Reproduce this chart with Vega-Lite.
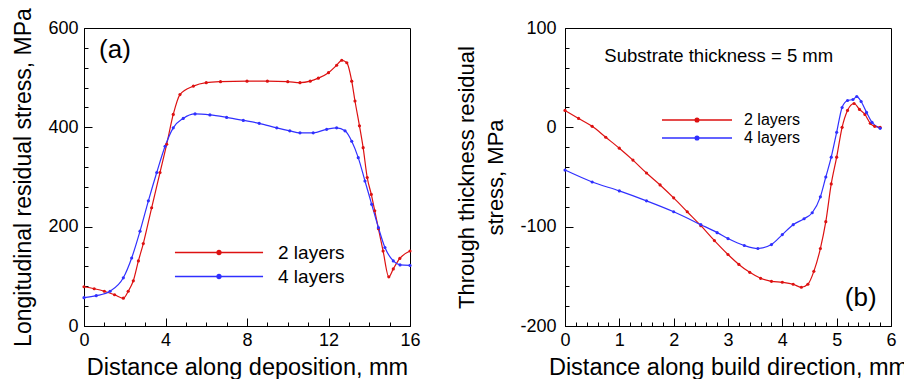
{
  "$schema": "https://vega.github.io/schema/vega-lite/v6.json",
  "padding": {"left": 12, "top": 7, "right": 0, "bottom": 0},
  "bounds": "flush",
  "spacing": 155,
  "datasets": {
    "a": [
      {"x": 0, "y": 79, "s": "2 layers"}, {"x": 0.5, "y": 75, "s": "2 layers"}, {"x": 1, "y": 70, "s": "2 layers"}, {"x": 1.5, "y": 63, "s": "2 layers"}, {"x": 1.93, "y": 56, "s": "2 layers"}, {"x": 2.17, "y": 70, "s": "2 layers"}, {"x": 2.42, "y": 91, "s": "2 layers"}, {"x": 2.67, "y": 131, "s": "2 layers"}, {"x": 2.91, "y": 166, "s": "2 layers"}, {"x": 3.32, "y": 238, "s": "2 layers"}, {"x": 3.73, "y": 309, "s": "2 layers"}, {"x": 4.06, "y": 366, "s": "2 layers"}, {"x": 4.38, "y": 426, "s": "2 layers"}, {"x": 4.71, "y": 466, "s": "2 layers"}, {"x": 5.37, "y": 483, "s": "2 layers"}, {"x": 6, "y": 490, "s": "2 layers"}, {"x": 6.7, "y": 492, "s": "2 layers"}, {"x": 8, "y": 493, "s": "2 layers"}, {"x": 9, "y": 493, "s": "2 layers"}, {"x": 10, "y": 492, "s": "2 layers"}, {"x": 10.6, "y": 490, "s": "2 layers"}, {"x": 11.1, "y": 493, "s": "2 layers"}, {"x": 11.5, "y": 499, "s": "2 layers"}, {"x": 12, "y": 510, "s": "2 layers"}, {"x": 12.4, "y": 525, "s": "2 layers"}, {"x": 12.65, "y": 535, "s": "2 layers"}, {"x": 12.9, "y": 530, "s": "2 layers"}, {"x": 13.14, "y": 493, "s": "2 layers"}, {"x": 13.3, "y": 453, "s": "2 layers"}, {"x": 13.52, "y": 403, "s": "2 layers"}, {"x": 13.7, "y": 359, "s": "2 layers"}, {"x": 13.9, "y": 299, "s": "2 layers"}, {"x": 14.1, "y": 265, "s": "2 layers"}, {"x": 14.27, "y": 232, "s": "2 layers"}, {"x": 14.45, "y": 196, "s": "2 layers"}, {"x": 14.68, "y": 151, "s": "2 layers"}, {"x": 14.96, "y": 99, "s": "2 layers"}, {"x": 15.18, "y": 115, "s": "2 layers"}, {"x": 15.5, "y": 136, "s": "2 layers"}, {"x": 16, "y": 151, "s": "2 layers"},
      {"x": 0, "y": 57, "s": "4 layers"}, {"x": 0.6, "y": 61, "s": "4 layers"}, {"x": 1.28, "y": 70, "s": "4 layers"}, {"x": 1.93, "y": 97, "s": "4 layers"}, {"x": 2.34, "y": 137, "s": "4 layers"}, {"x": 2.75, "y": 191, "s": "4 layers"}, {"x": 3.16, "y": 252, "s": "4 layers"}, {"x": 3.57, "y": 309, "s": "4 layers"}, {"x": 3.98, "y": 362, "s": "4 layers"}, {"x": 4.38, "y": 399, "s": "4 layers"}, {"x": 4.87, "y": 418, "s": "4 layers"}, {"x": 5.45, "y": 427, "s": "4 layers"}, {"x": 6.18, "y": 425, "s": "4 layers"}, {"x": 7, "y": 420, "s": "4 layers"}, {"x": 7.82, "y": 414, "s": "4 layers"}, {"x": 8.6, "y": 408, "s": "4 layers"}, {"x": 9.46, "y": 399, "s": "4 layers"}, {"x": 10.1, "y": 393, "s": "4 layers"}, {"x": 10.6, "y": 389, "s": "4 layers"}, {"x": 11.25, "y": 389, "s": "4 layers"}, {"x": 11.91, "y": 396, "s": "4 layers"}, {"x": 12.4, "y": 399, "s": "4 layers"}, {"x": 12.81, "y": 393, "s": "4 layers"}, {"x": 13.14, "y": 372, "s": "4 layers"}, {"x": 13.46, "y": 339, "s": "4 layers"}, {"x": 13.79, "y": 292, "s": "4 layers"}, {"x": 14.12, "y": 245, "s": "4 layers"}, {"x": 14.45, "y": 198, "s": "4 layers"}, {"x": 14.77, "y": 158, "s": "4 layers"}, {"x": 15.18, "y": 131, "s": "4 layers"}, {"x": 15.51, "y": 123, "s": "4 layers"}, {"x": 16, "y": 122, "s": "4 layers"}
    ],
    "b": [
      {"x": 0, "y": 17, "s": "2 layers"}, {"x": 0.25, "y": 9, "s": "2 layers"}, {"x": 0.5, "y": 1, "s": "2 layers"}, {"x": 0.75, "y": -10, "s": "2 layers"}, {"x": 1, "y": -21, "s": "2 layers"}, {"x": 1.25, "y": -33, "s": "2 layers"}, {"x": 1.5, "y": -46, "s": "2 layers"}, {"x": 1.75, "y": -58, "s": "2 layers"}, {"x": 2, "y": -71, "s": "2 layers"}, {"x": 2.25, "y": -85, "s": "2 layers"}, {"x": 2.5, "y": -99, "s": "2 layers"}, {"x": 2.75, "y": -114, "s": "2 layers"}, {"x": 3, "y": -128, "s": "2 layers"}, {"x": 3.2, "y": -138, "s": "2 layers"}, {"x": 3.4, "y": -146, "s": "2 layers"}, {"x": 3.6, "y": -152, "s": "2 layers"}, {"x": 3.8, "y": -155, "s": "2 layers"}, {"x": 4, "y": -156, "s": "2 layers"}, {"x": 4.2, "y": -158, "s": "2 layers"}, {"x": 4.35, "y": -161, "s": "2 layers"}, {"x": 4.47, "y": -158, "s": "2 layers"}, {"x": 4.58, "y": -145, "s": "2 layers"}, {"x": 4.7, "y": -122, "s": "2 layers"}, {"x": 4.8, "y": -95, "s": "2 layers"}, {"x": 4.9, "y": -57, "s": "2 layers"}, {"x": 5, "y": -30, "s": "2 layers"}, {"x": 5.1, "y": 0, "s": "2 layers"}, {"x": 5.2, "y": 17, "s": "2 layers"}, {"x": 5.32, "y": 24, "s": "2 layers"}, {"x": 5.42, "y": 18, "s": "2 layers"}, {"x": 5.52, "y": 13, "s": "2 layers"}, {"x": 5.62, "y": 4, "s": "2 layers"}, {"x": 5.7, "y": 1, "s": "2 layers"}, {"x": 5.8, "y": 0, "s": "2 layers"},
      {"x": 0, "y": -43, "s": "4 layers"}, {"x": 0.5, "y": -55, "s": "4 layers"}, {"x": 1, "y": -64, "s": "4 layers"}, {"x": 1.5, "y": -74, "s": "4 layers"}, {"x": 2, "y": -85, "s": "4 layers"}, {"x": 2.5, "y": -98, "s": "4 layers"}, {"x": 2.8, "y": -106, "s": "4 layers"}, {"x": 3, "y": -112, "s": "4 layers"}, {"x": 3.3, "y": -119, "s": "4 layers"}, {"x": 3.55, "y": -122, "s": "4 layers"}, {"x": 3.8, "y": -118, "s": "4 layers"}, {"x": 4, "y": -108, "s": "4 layers"}, {"x": 4.2, "y": -98, "s": "4 layers"}, {"x": 4.4, "y": -92, "s": "4 layers"}, {"x": 4.55, "y": -86, "s": "4 layers"}, {"x": 4.7, "y": -70, "s": "4 layers"}, {"x": 4.8, "y": -50, "s": "4 layers"}, {"x": 4.9, "y": -30, "s": "4 layers"}, {"x": 5, "y": -5, "s": "4 layers"}, {"x": 5.1, "y": 20, "s": "4 layers"}, {"x": 5.2, "y": 27, "s": "4 layers"}, {"x": 5.3, "y": 28, "s": "4 layers"}, {"x": 5.37, "y": 31, "s": "4 layers"}, {"x": 5.45, "y": 26, "s": "4 layers"}, {"x": 5.55, "y": 15, "s": "4 layers"}, {"x": 5.65, "y": 5, "s": "4 layers"}, {"x": 5.8, "y": -1, "s": "4 layers"}
    ]
  },
  "hconcat": [
    {
      "width": 326, "height": 298,
      "layer": [
        {
          "data": {"name": "a"},
          "mark": {"type": "line", "interpolate": "monotone", "strokeWidth": 1.2, "point": {"filled": true, "size": 10}},
          "encoding": {
            "x": {"field": "x", "type": "quantitative", "scale": {"domain": [0, 16], "nice": false, "zero": false},
              "axis": {"title": "Distance along deposition, mm", "tickCount": 100, "values": [0,1,2,3,4,5,6,7,8,9,10,11,12,13,14,15,16],
                "labelOverlap": false, "labelPadding": 13, "titlePadding": 2,
                "labelExpr": "datum.value % 4 === 0 ? datum.value + '' : ''",
                "tickSize": {"condition": {"test": "datum.value % 4 === 0", "value": -8}, "value": -4}}},
            "y": {"field": "y", "type": "quantitative", "scale": {"domain": [0, 600], "nice": false, "zero": false},
              "axis": {"title": "Longitudinal residual stress, MPa", "titleFontSize": 23, "tickCount": 100, "values": [0,40,80,120,160,200,240,280,320,360,400,440,480,520,560,600],
                "labelOverlap": false, "labelPadding": 14, "titlePadding": 12,
                "labelExpr": "datum.value % 200 === 0 ? datum.value + '' : ''",
                "tickSize": {"condition": {"test": "datum.value % 200 === 0", "value": -8}, "value": -4}}},
            "color": {"field": "s", "type": "nominal", "scale": {"domain": ["2 layers", "4 layers"], "range": ["#dd1111", "#3030ff"]},
              "legend": {"orient": "none", "legendX": 122.5, "legendY": 212, "title": null, "padding": 0,
                "symbolType": "M-3.83,0L3.83,0M0.174,0A0.174,0.174,0,1,1,-0.174,0A0.174,0.174,0,1,1,0.174,0",
                "symbolSize": 529, "symbolStrokeWidth": 1.5, "labelFontSize": 19, "labelOffset": 46.5, "rowPadding": 1}}
          }
        },
        {
          "data": {"values": [{}]},
          "mark": {"type": "text", "align": "left", "baseline": "middle", "fontSize": 26, "color": "black"},
          "encoding": {"x": {"datum": 0.74}, "y": {"datum": 556}, "text": {"value": "(a)"}}
        }
      ]
    },
    {
      "width": 326, "height": 298,
      "layer": [
        {
          "data": {"name": "b"},
          "mark": {"type": "line", "interpolate": "monotone", "strokeWidth": 1.2, "point": {"filled": true, "size": 10}},
          "encoding": {
            "x": {"field": "x", "type": "quantitative", "scale": {"domain": [0, 6], "nice": false, "zero": false},
              "axis": {"title": "Distance along build direction, mm", "tickCount": 100, "values": [0,0.2,0.4,0.6,0.8,1,1.2,1.4,1.6,1.8,2,2.2,2.4,2.6,2.8,3,3.2,3.4,3.6,3.8,4,4.2,4.4,4.6,4.8,5,5.2,5.4,5.6,5.8,6],
                "labelOverlap": false, "labelPadding": 13, "titlePadding": 2,
                "labelExpr": "abs(datum.value - round(datum.value)) < 0.01 ? round(datum.value) + '' : ''",
                "tickSize": {"condition": {"test": "abs(datum.value - round(datum.value)) < 0.01", "value": -8}, "value": -4}}},
            "y": {"field": "y", "type": "quantitative", "scale": {"domain": [-200, 100], "nice": false, "zero": false},
              "axis": {"title": ["Through thickness residual", "stress, MPa"], "titleFontSize": 22, "titleLineHeight": 29, "tickCount": 100, "values": [-200,-180,-160,-140,-120,-100,-80,-60,-40,-20,0,20,40,60,80,100],
                "labelOverlap": false, "labelPadding": 17, "titlePadding": 12,
                "labelExpr": "datum.value % 100 === 0 ? datum.value + '' : ''",
                "tickSize": {"condition": {"test": "datum.value % 100 === 0", "value": -8}, "value": -4}}},
            "color": {"field": "s", "type": "nominal", "scale": {"domain": ["2 layers", "4 layers"], "range": ["#dd1111", "#3030ff"]},
              "legend": {"orient": "none", "legendX": 122, "legendY": 82, "title": null, "padding": 0,
                "symbolType": "M-3.89,0L3.89,0M0.2,0A0.2,0.2,0,1,1,-0.2,0A0.2,0.2,0,1,1,0.2,0",
                "symbolSize": 324, "symbolStrokeWidth": 1.5, "labelFontSize": 16, "labelOffset": 37, "rowPadding": 0}}
          }
        },
        {
          "data": {"values": [{}]},
          "mark": {"type": "text", "align": "center", "baseline": "middle", "fontSize": 18.5, "color": "black"},
          "encoding": {"x": {"datum": 2.83}, "y": {"datum": 72}, "text": {"value": "Substrate thickness = 5 mm"}}
        },
        {
          "data": {"values": [{}]},
          "mark": {"type": "text", "align": "left", "baseline": "middle", "fontSize": 26, "color": "black"},
          "encoding": {"x": {"datum": 5.15}, "y": {"datum": -172}, "text": {"value": "(b)"}}
        }
      ]
    }
  ],
  "resolve": {"scale": {"color": "independent"}, "legend": {"color": "independent"}},
  "config": {
    "font": "Liberation Sans",
    "view": {"stroke": "black", "strokeWidth": 1},
    "axis": {"grid": false, "domainColor": "black", "tickColor": "black", "labelColor": "black", "titleColor": "black",
      "labelFontSize": 18, "titleFontSize": 23.5, "titleFontWeight": "normal", "labelOverlap": false, "labelFlush": false},
    "legend": {"labelColor": "black"}
  }
}
